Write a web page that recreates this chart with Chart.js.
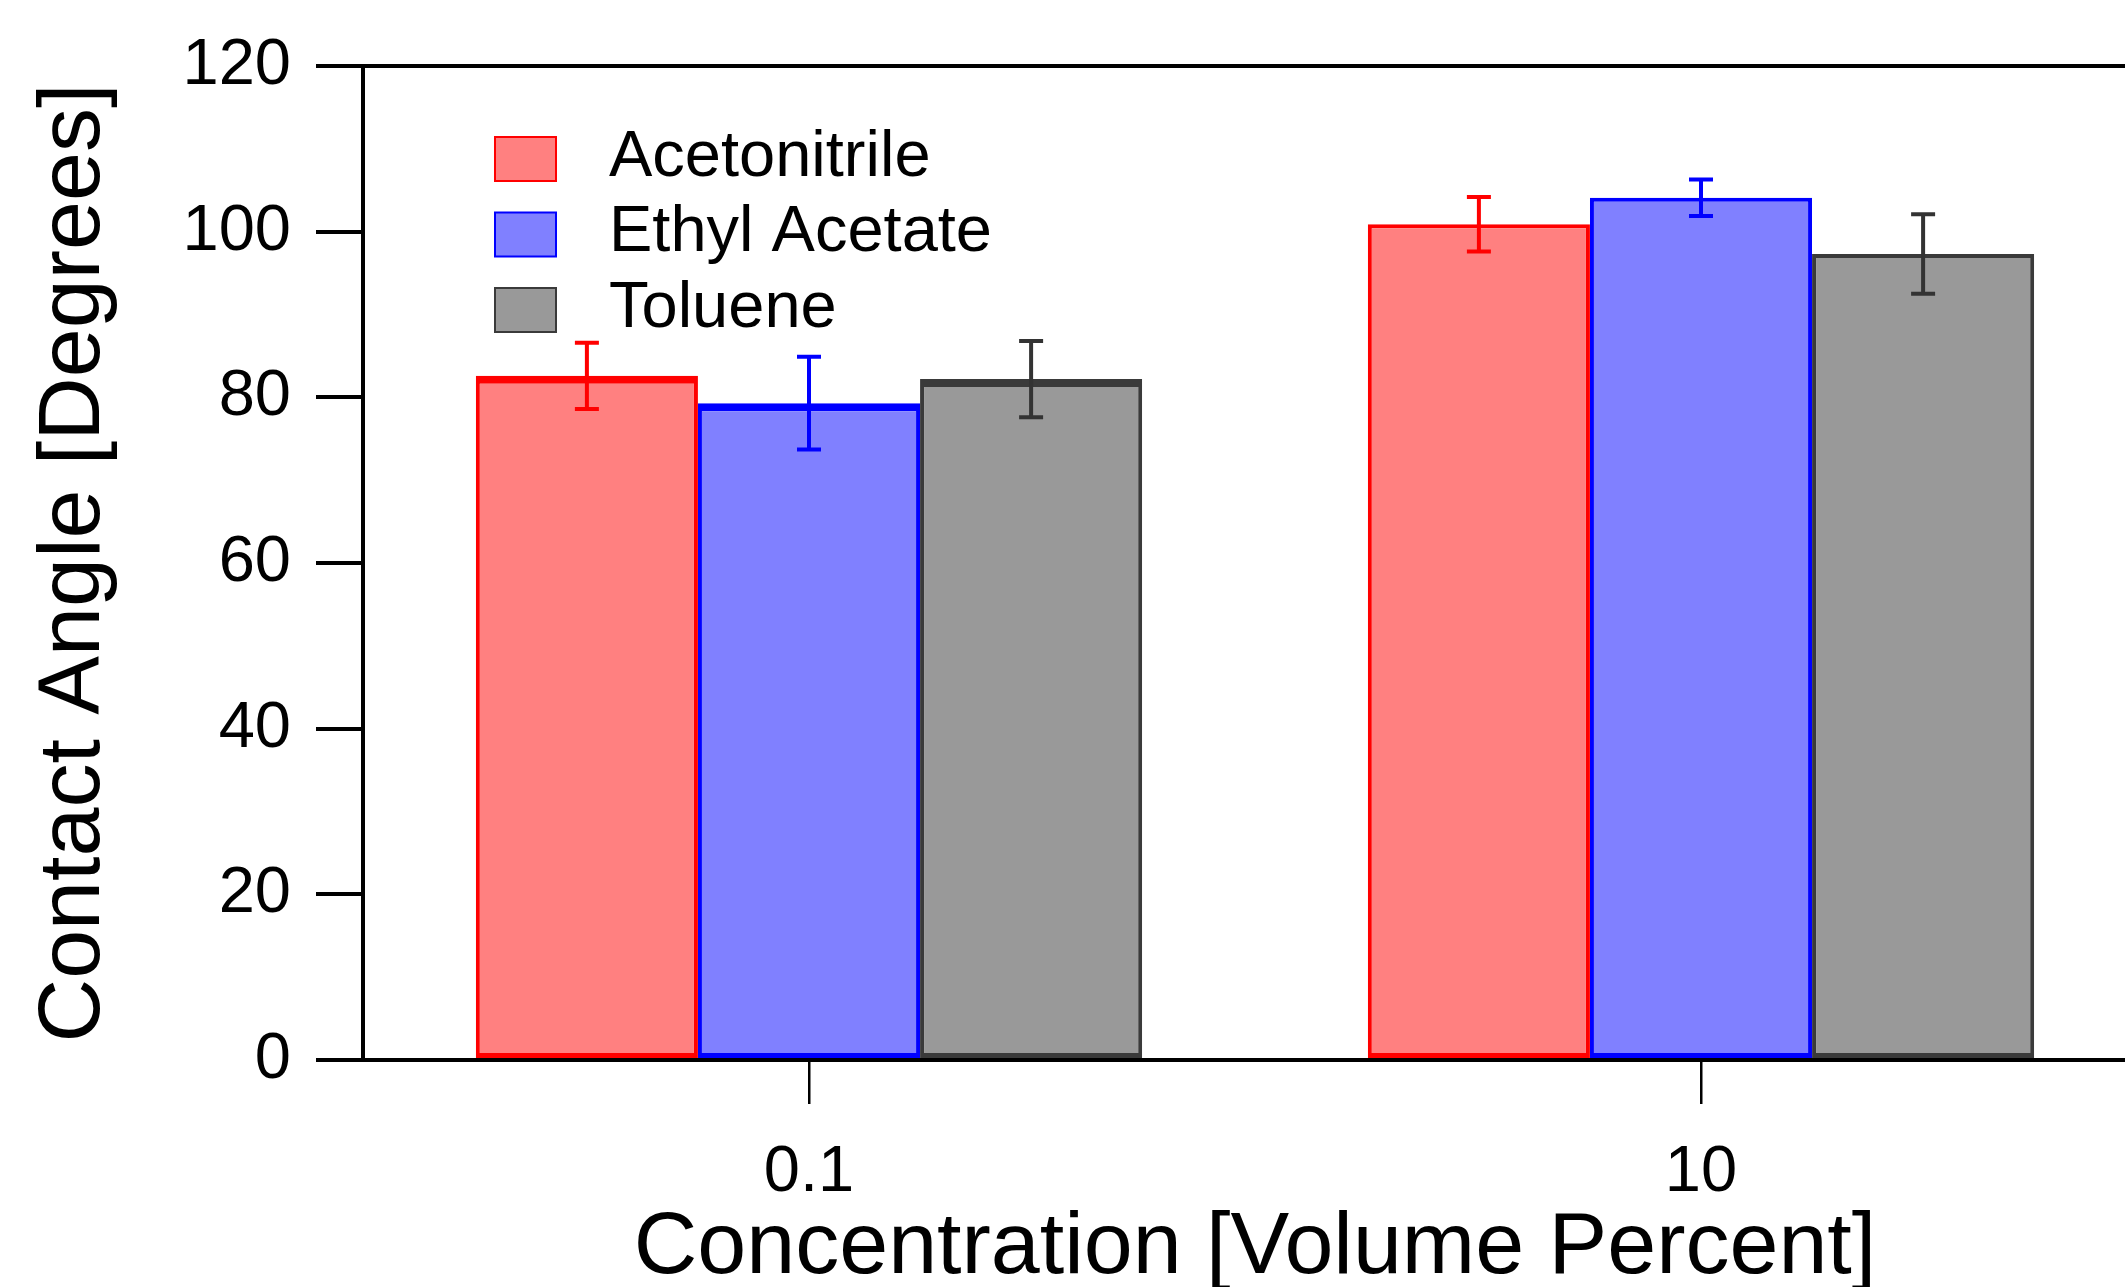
<!DOCTYPE html>
<html>
<head>
<meta charset="utf-8">
<script src="https://cdn.jsdelivr.net/npm/chart.js@4.4.1/dist/chart.umd.min.js"></script>
<style>
  html, body { margin: 0; padding: 0; background: #fff; overflow: hidden; }
  #wrap { width: 2160px; height: 1287px; position: relative; }
</style>
</head>
<body>
<div id="wrap"><canvas id="chart"></canvas></div>
<script>
const categories = ["0.1", "10"];
const seriesNames = ["Acetonitrile", "Ethyl Acetate", "Toluene"];
const acetonitrile = [82.6, 100.9];
const acetonitrileErr = [4.0, 3.3];
const ethylAcetate = [79.3, 104.1];
const ethylAcetateErr = [5.6, 2.2];
const toluene = [82.2, 97.3];
const tolueneErr = [4.6, 4.8];
const yTicks = [0, 20, 40, 60, 80, 100, 120];

const FONT = "'Liberation Sans', Arial, sans-serif";

function barBorder(ctx) {
  // the low-concentration bars have a heavier top edge in the original
  const top = ctx.dataIndex === 0 ? 8 : 4;
  return { top: top, left: 4, right: 4, bottom: 5 };
}

function makeSet(label, data, errors, fill, line, errColor) {
  return {
    label: label,
    data: data,
    errors: errors,
    errColor: errColor,
    backgroundColor: fill,
    borderColor: line,
    borderWidth: barBorder,
    borderSkipped: false,
    barPercentage: 1,
    categoryPercentage: 0.747
  };
}

const errorBars = {
  id: "errorBars",
  afterDatasetsDraw(chart) {
    const ctx = chart.ctx;
    const y = chart.scales.y;
    chart.data.datasets.forEach((ds, i) => {
      const meta = chart.getDatasetMeta(i);
      meta.data.forEach((bar, j) => {
        const v = ds.data[j];
        const e = ds.errors[j];
        const yTop = y.getPixelForValue(v + e);
        const yBot = y.getPixelForValue(v - e);
        ctx.save();
        ctx.strokeStyle = ds.errColor;
        ctx.lineWidth = 4;
        ctx.beginPath();
        ctx.moveTo(bar.x, yTop);
        ctx.lineTo(bar.x, yBot);
        ctx.moveTo(bar.x - 12, yTop);
        ctx.lineTo(bar.x + 12, yTop);
        ctx.moveTo(bar.x - 12, yBot);
        ctx.lineTo(bar.x + 12, yBot);
        ctx.stroke();
        ctx.restore();
      });
    });
  }
};

const boxLegend = {
  id: "boxLegend",
  afterDraw(chart) {
    const ctx = chart.ctx;
    const area = chart.chartArea;
    const x0 = area.left + 132;
    const y0 = area.top + 71;
    ctx.save();
    chart.data.datasets.forEach((ds, i) => {
      const by = y0 + i * 75.5;
      ctx.fillStyle = ds.backgroundColor;
      ctx.fillRect(x0, by, 61, 44);
      ctx.strokeStyle = ds.borderColor;
      ctx.lineWidth = 2;
      ctx.strokeRect(x0, by, 61, 44);
      ctx.fillStyle = "#000";
      ctx.font = "65px " + FONT;
      ctx.textBaseline = "middle";
      ctx.textAlign = "left";
      ctx.fillText(ds.label, x0 + 114, by + 21);
    });
    ctx.restore();
  }
};

new Chart(document.getElementById("chart"), {
  type: "bar",
  data: {
    labels: categories,
    datasets: [
      makeSet(seriesNames[0], acetonitrile, acetonitrileErr, "#ff8080", "#ff0000", "#ff0000"),
      makeSet(seriesNames[1], ethylAcetate, ethylAcetateErr, "#8080ff", "#0000ff", "#0000ff"),
      makeSet(seriesNames[2], toluene, tolueneErr, "#999999", "#3a3a3a", "#333333")
    ]
  },
  options: {
    responsive: true,
    maintainAspectRatio: false,
    animation: false,
    layout: { padding: { top: 66, right: 13, left: 0, bottom: 0 } },
    plugins: {
      legend: { display: false },
      tooltip: { enabled: false }
    },
    scales: {
      x: {
        offset: true,
        grid: {
          display: true,
          drawOnChartArea: false,
          offset: false,
          tickLength: 44,
          color: "#000",
          lineWidth: 2.5
        },
        border: { display: false },
        ticks: {
          color: "#000",
          padding: 30,
          font: { family: FONT, size: 65 }
        },
        title: {
          display: true,
          text: "Concentration [Volume Percent]",
          color: "#000",
          font: { family: FONT, size: 88, lineHeight: 0.8 },
          padding: { top: 2, bottom: 3 }
        },
        afterFit(scale) { scale.height = 227; }
      },
      y: {
        min: yTicks[0],
        max: yTicks[yTicks.length - 1],
        afterBuildTicks(scale) {
          scale.ticks = yTicks.map((v) => ({ value: v }));
        },
        grid: {
          drawOnChartArea: true,
          tickLength: 47,
          lineWidth: 4,
          tickColor: "#000",
          color: (c) => (c.tick && (c.tick.value === 0 || c.tick.value === 120)) ? "#000" : "rgba(0,0,0,0)"
        },
        border: { display: true, color: "#000", width: 4 },
        ticks: {
          color: "#000",
          padding: 25,
          font: { family: FONT, size: 65 }
        },
        title: {
          display: true,
          text: "Contact Angle [Degrees]",
          color: "#000",
          font: { family: FONT, size: 88, lineHeight: 0.8 },
          padding: { top: 40, bottom: 72 }
        },
        afterFit(scale) { scale.width = 363; }
      }
    }
  },
  plugins: [errorBars, boxLegend]
});
</script>
</body>
</html>
